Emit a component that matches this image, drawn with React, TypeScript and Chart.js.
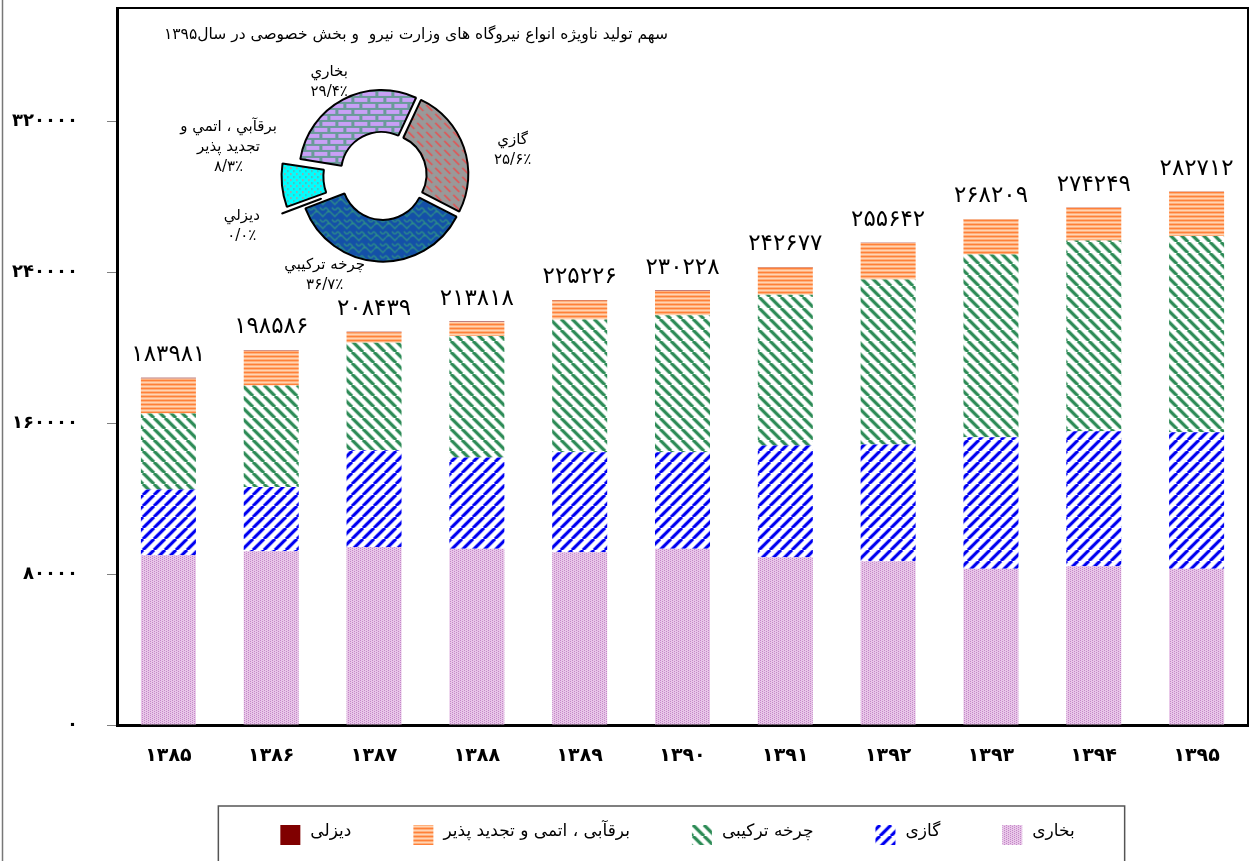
import React, { useEffect, useRef } from 'react';
import { Chart, registerables } from 'chart.js';

Chart.register(...registerables);

// ---------- data ----------
const categories = ['۱۳۸۵', '۱۳۸۶', '۱۳۸۷', '۱۳۸۸', '۱۳۸۹', '۱۳۹۰', '۱۳۹۱', '۱۳۹۲', '۱۳۹۳', '۱۳۹۴', '۱۳۹۵'];
const steamValues = [90000, 92100, 94400, 93400, 91600, 93400, 88900, 86800, 82800, 84200, 82800];
const gasValues = [34800, 34100, 51200, 48400, 53000, 51200, 59200, 61900, 69700, 71500, 72400];
const combinedValues = [40300, 53700, 57000, 64300, 70300, 72600, 79900, 87400, 96900, 101100, 103900];
const renewableValues = [18581, 18386, 5589, 7468, 10126, 12828, 14527, 19392, 18689, 17329, 23512];
const dieselValues = [300, 300, 250, 250, 200, 200, 150, 150, 120, 120, 100];
const totalValues = [183981, 198586, 208439, 213818, 225226, 230228, 242677, 255642, 268209, 274249, 282712];
const yTickValues = [0, 80000, 160000, 240000, 320000];
const yMax = 380000;
const seriesNames = ['بخاری', 'گازی', 'چرخه ترکیبی', 'برقآبی ، اتمی و تجدید پذیر', 'دیزلی'];

const pieTitle = 'سهم تولید ناویژه انواع نیروگاه های وزارت نیرو  و بخش خصوصی در سال۱۳۹۵';
const pieNames = ['گازي', 'چرخه ترکيبي', 'ديزلي', 'برقآبي ، اتمي و\nتجديد پذير', 'بخاري'];
const piePercents = [25.6, 36.7, 0.04, 8.3, 29.4];

const FONT = '"DejaVu Sans", sans-serif';
const faDigits = '۰۱۲۳۴۵۶۷۸۹';
const toFa = (v: number | string) => String(v).replace(/\d/g, (d) => faDigits[Number(d)]);
const pct = (v: number) => toFa(v.toFixed(1)).replace('.', '/') + '٪';

// ---------- patterns ----------
function makePattern(w: number, h: number, draw: (c: CanvasRenderingContext2D) => void) {
  const cv = document.createElement('canvas');
  cv.width = w;
  cv.height = h;
  const c = cv.getContext('2d')!;
  draw(c);
  return c.createPattern(cv, 'repeat')!;
}

function stripes(s: number, dir: 'up' | 'down', dark: string, light: string) {
  return makePattern(s, s, (c) => {
    c.fillStyle = '#ffffff';
    c.fillRect(0, 0, s, s);
    const path = () => {
      c.beginPath();
      for (let k = -1; k <= 1; k++) {
        if (dir === 'up') {
          c.moveTo(k * s, s);
          c.lineTo((k + 1) * s, 0);
        } else {
          c.moveTo(k * s, 0);
          c.lineTo((k + 1) * s, s);
        }
      }
    };
    path();
    c.strokeStyle = light;
    c.lineWidth = 4.4;
    c.stroke();
    path();
    c.strokeStyle = dark;
    c.lineWidth = 2.8;
    c.stroke();
  });
}

function buildPatterns() {
  const steamBar = makePattern(4, 4, (c) => {
    c.fillStyle = '#e8c6e8';
    c.fillRect(0, 0, 4, 4);
    c.fillStyle = '#c488c8';
    c.fillRect(0, 0, 1, 1);
    c.fillRect(0, 2, 1, 1);
    c.fillRect(2, 1, 1, 1);
    c.fillRect(2, 3, 1, 1);
  });
  const gasBar = stripes(11, 'up', '#0000f0', '#b8b8ff');
  const ccBar = stripes(11, 'down', '#2e8b57', '#b4dac4');
  const renBar = makePattern(4, 4, (c) => {
    c.fillStyle = '#ffb07c';
    c.fillRect(0, 0, 4, 4);
    c.fillStyle = '#ff8038';
    c.fillRect(0, 0, 4, 1);
    c.fillStyle = '#ffd4b4';
    c.fillRect(0, 2, 4, 1);
  });
  const dieselBar = '#800000';

  const steamPie = makePattern(16, 12, (c) => {
    c.fillStyle = '#6a9a9a';
    c.fillRect(0, 0, 16, 12);
    c.fillStyle = '#c8a0f6';
    c.fillRect(2, 2, 13, 4);
    c.fillRect(10, 8, 13, 4);
    c.fillRect(-6, 8, 13, 4);
  });
  const gasPie = makePattern(9, 9, (c) => {
    c.fillStyle = '#999999';
    c.fillRect(0, 0, 9, 9);
    c.strokeStyle = '#e85050';
    c.lineWidth = 1.6;
    c.beginPath();
    c.moveTo(1, 1);
    c.lineTo(7, 7);
    c.stroke();
  });
  const ccPie = makePattern(12, 12, (c) => {
    c.fillStyle = '#1450a8';
    c.fillRect(0, 0, 12, 12);
    c.strokeStyle = '#2c8a8a';
    c.lineWidth = 1.5;
    c.beginPath();
    c.moveTo(0, 3);
    c.lineTo(3, 0);
    c.lineTo(6, 3);
    c.lineTo(9, 6);
    c.lineTo(12, 3);
    c.moveTo(0, 9);
    c.lineTo(3, 12);
    c.moveTo(6, 9);
    c.lineTo(9, 12);
    c.lineTo(12, 9);
    c.stroke();
  });
  const renPie = makePattern(6, 6, (c) => {
    c.fillStyle = '#00ffff';
    c.fillRect(0, 0, 6, 6);
    c.fillStyle = '#f07878';
    c.fillRect(1, 1, 1.5, 1.5);
    c.fillStyle = '#7a9a9a';
    c.fillRect(4, 4, 1.5, 1.5);
  });
  return { steamBar, gasBar, ccBar, renBar, dieselBar, steamPie, gasPie, ccPie, renPie };
}

// ---------- plugins ----------
const framePlugin = {
  id: 'frame',
  afterDraw(chart: any) {
    const { ctx, chartArea: a } = chart;
    ctx.save();
    ctx.strokeStyle = '#000';
    ctx.lineWidth = 2;
    ctx.beginPath();
    ctx.moveTo(a.left, a.top);
    ctx.lineTo(a.right, a.top);
    ctx.lineTo(a.right, a.bottom);
    ctx.stroke();
    ctx.strokeStyle = '#777';
    ctx.lineWidth = 1.5;
    ctx.beginPath();
    ctx.moveTo(2.5, 0);
    ctx.lineTo(2.5, chart.height);
    ctx.stroke();
    ctx.restore();
  },
};

const totalsPlugin = {
  id: 'totals',
  afterDatasetsDraw(chart: any) {
    const { ctx } = chart;
    const last = chart.data.datasets.length - 1;
    const meta = chart.getDatasetMeta(last);
    ctx.save();
    ctx.fillStyle = '#000';
    ctx.font = `23px ${FONT}`;
    ctx.textAlign = 'center';
    ctx.textBaseline = 'middle';
    meta.data.forEach((el: any, i: number) => {
      ctx.fillText(toFa(totalValues[i]), el.x, el.y - 23);
    });
    ctx.restore();
  },
};

const legendPlugin = {
  id: 'customLegend',
  afterDraw(chart: any) {
    const { ctx, chartArea: a } = chart;
    const items = chart.data.datasets.map((d: any) => ({ text: d.label, fill: d.backgroundColor })).reverse();
    ctx.save();
    ctx.font = `17px ${FONT}`;
    const box = 20;
    const gapText = 10;
    const gapItem = 62;
    const widths = items.map((it: any) => box + gapText + ctx.measureText(it.text).width);
    const total = widths.reduce((s: number, w: number) => s + w, 0) + gapItem * (items.length - 1);
    const cx = (a.left + a.right) / 2 - 5;
    const top = a.bottom + 81;
    const cy = top + 29;
    let x = cx - total / 2;
    const startX = x;
    ctx.textBaseline = 'middle';
    ctx.textAlign = 'left';
    items.forEach((it: any, i: number) => {
      ctx.fillStyle = it.fill;
      ctx.fillRect(x, cy - box / 2, box, box);
      ctx.fillStyle = '#000';
      ctx.fillText(it.text, x + box + gapText, cy - 3);
      x += widths[i] + gapItem;
    });
    const endX = x - gapItem;
    ctx.strokeStyle = '#555';
    ctx.lineWidth = 1.5;
    ctx.strokeRect(startX - 62, top, endX + 50 - (startX - 62), 90);
    ctx.restore();
  },
};

// label placement around the doughnut: extra distance beyond outer radius and angle shift (deg)
const pieLabelDist = [50, 34, 68, 75, 26];
const pieLabelShift = [8, 27, 1, 16, -2];

const pieLabelPlugin = {
  id: 'pieLabels',
  afterDraw(chart: any) {
    const { ctx } = chart;
    const meta = chart.getDatasetMeta(0);
    ctx.save();
    ctx.fillStyle = '#000';
    ctx.font = `15px ${FONT}`;
    ctx.textAlign = 'center';
    ctx.textBaseline = 'middle';
    const lh = 20;
    meta.data.forEach((arc: any, i: number) => {
      const p = arc.getProps(['x', 'y', 'startAngle', 'endAngle', 'outerRadius'], true);
      const mid = (p.startAngle + p.endAngle) / 2 + (pieLabelShift[i] * Math.PI) / 180;
      const r = p.outerRadius + pieLabelDist[i];
      const lx = p.x + Math.cos(mid) * r;
      const ly = p.y + Math.sin(mid) * r;
      const lines = [...chart.data.labels[i].split('\n'), pct(chart.data.datasets[0].data[i])];
      const y0 = ly - ((lines.length - 1) * lh) / 2;
      lines.forEach((t: string, k: number) => ctx.fillText(t, lx, y0 + k * lh));
    });
    ctx.restore();
  },
};

export default function App() {
  const barRef = useRef<HTMLCanvasElement>(null);
  const pieRef = useRef<HTMLCanvasElement>(null);

  useEffect(() => {
    const p = buildPatterns();
    const bar = new Chart(barRef.current!, {
      type: 'bar',
      data: {
        labels: categories,
        datasets: [
          { label: seriesNames[0], data: steamValues, backgroundColor: p.steamBar },
          { label: seriesNames[1], data: gasValues, backgroundColor: p.gasBar },
          { label: seriesNames[2], data: combinedValues, backgroundColor: p.ccBar },
          { label: seriesNames[3], data: renewableValues, backgroundColor: p.renBar },
          { label: seriesNames[4], data: dieselValues, backgroundColor: p.dieselBar },
        ],
      },
      options: {
        animation: false,
        responsive: false,
        devicePixelRatio: 1,
        layout: { padding: { left: 0, right: 2, top: 8, bottom: 100 } },
        datasets: { bar: { barPercentage: 0.535, categoryPercentage: 1, borderWidth: 0 } },
        scales: {
          x: {
            stacked: true,
            grid: { display: false, drawTicks: false },
            border: { display: true, color: '#000', width: 3 },
            ticks: { padding: 20, color: '#000', font: { family: FONT, size: 19, weight: 'bold' } },
            afterFit: (s: any) => {
              s.height = 36;
              s.paddingLeft = 0;
              s.paddingRight = 0;
            },
          },
          y: {
            stacked: true,
            min: 0,
            max: yMax,
            afterBuildTicks: (s: any) => {
              s.ticks = yTickValues.map((v) => ({ value: v }));
            },
            grid: { drawOnChartArea: false, color: '#808080', tickLength: 10 },
            border: { display: true, color: '#000', width: 3 },
            ticks: {
              padding: 29,
              color: '#000',
              font: { family: FONT, size: 18, weight: 'bold' },
              callback: (v: any) => toFa(v),
            },
            afterFit: (s: any) => {
              s.width = 117;
              s.paddingTop = 0;
              s.paddingBottom = 0;
            },
          },
        },
        plugins: { legend: { display: false }, tooltip: { enabled: false } },
      } as any,
      plugins: [framePlugin, totalsPlugin, legendPlugin],
    });

    const pie = new Chart(pieRef.current!, {
      type: 'doughnut',
      data: {
        labels: pieNames,
        datasets: [
          {
            data: piePercents,
            backgroundColor: [p.gasPie, p.ccPie, '#000000', p.renPie, p.steamPie],
            borderColor: '#000',
            borderWidth: 2,
            offset: [14, 14, 52, 52, 14],
          },
        ],
      },
      options: {
        animation: false,
        responsive: false,
        devicePixelRatio: 1,
        rotation: 25,
        cutout: '49%',
        radius: 82,
        layout: { padding: { bottom: 8 } },
        plugins: {
          legend: { display: false },
          tooltip: { enabled: false },
          title: {
            display: true,
            text: pieTitle,
            align: 'end',
            color: '#000',
            font: { family: FONT, size: 15.5, weight: 'normal' },
            padding: { top: 11, bottom: 9 },
          },
        },
      } as any,
      plugins: [pieLabelPlugin],
    });

    return () => {
      bar.destroy();
      pie.destroy();
    };
  }, []);

  return (
    <div style={{ position: 'fixed', left: 0, top: 0, width: 1250, height: 861, background: '#fff' }}>
      <canvas ref={barRef} width={1250} height={861} style={{ position: 'absolute', left: 0, top: 0, width: 1250, height: 861 }} />
      <canvas ref={pieRef} width={570} height={290} style={{ position: 'absolute', left: 98, top: 15, width: 570, height: 290 }} />
    </div>
  );
}
